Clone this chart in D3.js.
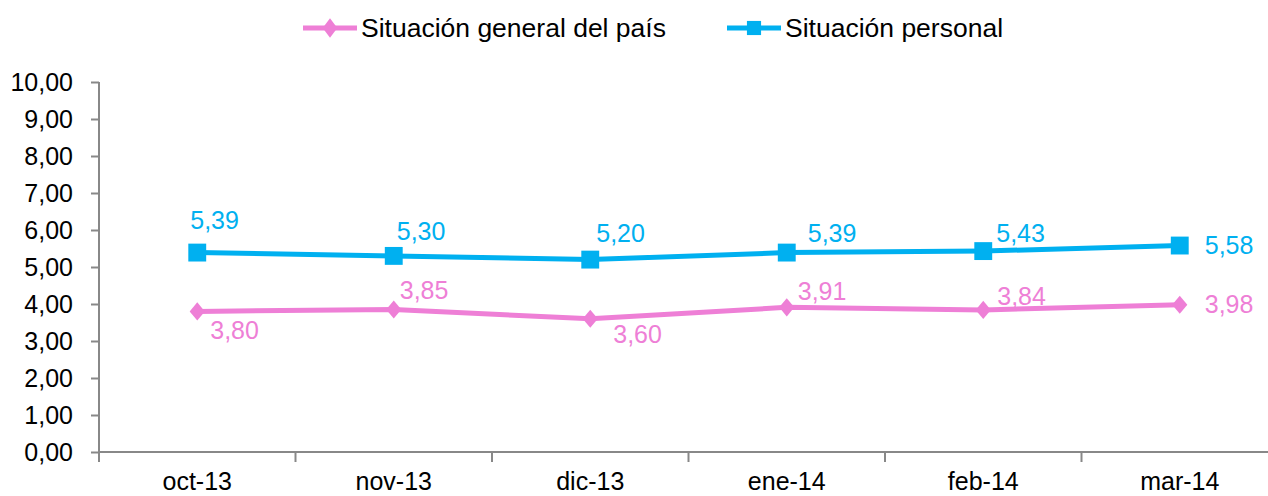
<!DOCTYPE html>
<html>
<head>
<meta charset="utf-8">
<script src="https://cdn.jsdelivr.net/npm/d3@7"></script>
<style>
body{margin:0;background:#fff;}
svg{display:block;font-family:"Liberation Sans",Arial,Helvetica,sans-serif;}
</style>
</head>
<body>
<svg id="chart" width="1268" height="496"></svg>
<script>
var months = ["oct-13","nov-13","dic-13","ene-14","feb-14","mar-14"];
var general = [3.80,3.85,3.60,3.91,3.84,3.98];
var personal = [5.39,5.30,5.20,5.39,5.43,5.58];
var yTicks = [0,1,2,3,4,5,6,7,8,9,10];

// label offsets from each point (left edge x, vertical centre y), in px
var generalDx = [13, 6, 23, 11, 14, 25];
var generalDy = [19, -19, 15, -16, -14, 0];
var personalDx = [-7, 3, 6, 21, 13, 25];
var personalDy = [-32, -25, -26, -19, -18, 0];

var pink = "#ee7fd6", blue = "#00b0f0", axisCol = "#888";
var fmt = function(v){ return v.toFixed(2).replace(".", ","); };

var svg = d3.select("#chart");
var pLeft = 99, pRight = 1278, pTop = 82, pBottom = 452;

var x = d3.scaleBand().domain(months).range([pLeft, pRight]);
var y = d3.scaleLinear().domain([0,10]).range([pBottom, pTop]);

// y axis
var ya = svg.append("g").attr("transform","translate("+pLeft+",0)")
   .call(d3.axisLeft(y).tickValues(yTicks).tickSize(8).tickPadding(18).tickFormat(fmt));
ya.select(".domain").attr("stroke",axisCol).attr("stroke-width",2).attr("d","M0,"+pTop+"V"+pBottom);
ya.selectAll(".tick line").attr("stroke",axisCol).attr("stroke-width",2);
ya.selectAll(".tick text").attr("fill","#000").style("font-size","25px")
   .attr("dy","0.35em");

// x axis
var xa = svg.append("g").attr("transform","translate(0,"+pBottom+")")
   .call(d3.axisBottom(x).tickSize(0).tickPadding(20));
xa.select(".domain").attr("stroke",axisCol).attr("stroke-width",2).attr("d","M"+pLeft+",0H"+pRight);
xa.selectAll(".tick text").attr("fill","#000").style("font-size","25px").attr("dy","0.71em");
var bounds = x.domain().map(function(d){ return x(d); }).concat([pRight]);
xa.selectAll(".sep").data(bounds).enter().append("line")
   .attr("x1",function(d){return d;}).attr("x2",function(d){return d;})
   .attr("y1",0).attr("y2",10).attr("stroke",axisCol).attr("stroke-width",2);

var cx = function(d,i){ return x(months[i]) + x.bandwidth()/2; };
var line = d3.line().x(cx).y(function(d){ return y(d); });

var diamond = d3.symbol().type(d3.symbolDiamond).size(95);
var square = d3.symbol().type(d3.symbolSquare).size(320);

function series(vals, col, sym, xScaleMark, dx, dy){
   svg.append("path").datum(vals)
      .attr("d", line).attr("fill","none").attr("stroke",col).attr("stroke-width",5);
   svg.selectAll(null).data(vals).enter().append("path")
      .attr("d", sym)
      .attr("transform", function(d,i){
         return "translate("+cx(d,i)+","+y(d)+") scale("+xScaleMark+",1)";
      })
      .attr("fill", col);
   svg.selectAll(null).data(vals).enter().append("text")
      .attr("x", function(d,i){ return cx(d,i) + dx[i]; })
      .attr("y", function(d,i){ return y(d) + dy[i]; })
      .attr("dy","0.35em")
      .attr("fill", col).style("font-size","25px")
      .text(fmt);
}

series(general, pink, diamond, 1.45, generalDx, generalDy);
series(personal, blue, square, 1, personalDx, personalDy);

// legend
var legend = [
   {name:"Situación general del país", col:pink, sym:d3.symbol().type(d3.symbolDiamond).size(110), sx:1.3, x:303},
   {name:"Situación personal", col:blue, sym:d3.symbol().type(d3.symbolSquare).size(200), sx:1, x:727}
];
var lg = svg.selectAll(".lg").data(legend).enter().append("g")
   .attr("transform", function(d){ return "translate("+d.x+",28)"; });
lg.append("line").attr("x1",0).attr("x2",54).attr("stroke",function(d){return d.col;}).attr("stroke-width",5);
lg.append("path")
   .attr("d", function(d){ return d.sym(); })
   .attr("transform", function(d){ return "translate(27,0) scale("+d.sx+",1)"; })
   .attr("fill", function(d){ return d.col; });
lg.append("text").attr("x",58).attr("dy","0.35em").style("font-size","26.5px").attr("fill","#000")
   .text(function(d){ return d.name; });
</script>
</body>
</html>
